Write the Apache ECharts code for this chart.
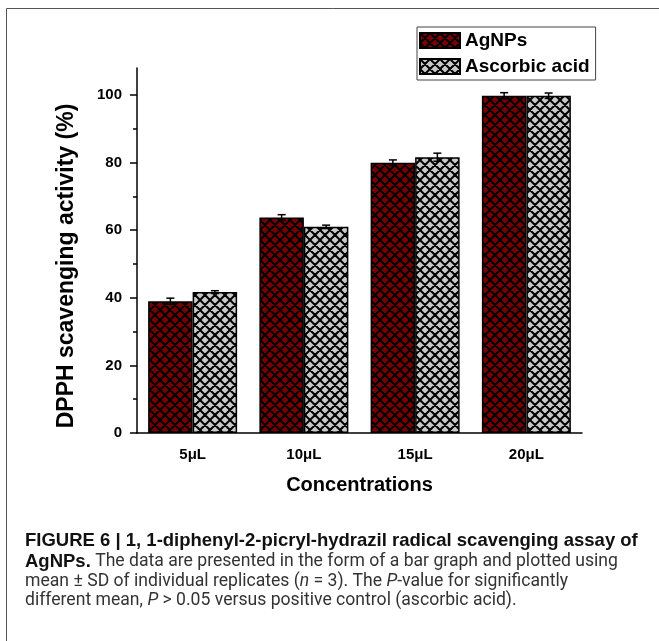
<!DOCTYPE html>
<html>
<head>
<meta charset="utf-8">
<script src="https://cdn.jsdelivr.net/npm/echarts@6/dist/echarts.min.js"></script>
<style>
html,body{margin:0;padding:0;background:#fff;}
#chart{width:659px;height:641px;}
</style>
</head>
<body>
<div id="chart"></div>
<script>
// ---- data ----
const categories = ['5μL', '10μL', '15μL', '20μL'];
const seriesNames = ['AgNPs', 'Ascorbic acid'];
const agnpsValues = [39.0, 63.8, 80.0, 99.8];
const agnpsErrors = [0.9, 0.8, 0.8, 0.9];
const ascorbicValues = [41.7, 61.0, 81.6, 99.8];
const ascorbicErrors = [0.4, 0.5, 1.2, 0.8];
const yTickValues = [0, 20, 40, 60, 80, 100];
const yMinorTickValues = [10, 30, 50, 70, 90];

function makePattern(fill) {
  const s = 20, p = 10;
  const c = document.createElement('canvas');
  c.width = s; c.height = s;
  const g = c.getContext('2d');
  g.fillStyle = fill;
  g.fillRect(0, 0, s, s);
  g.strokeStyle = '#000';
  g.lineWidth = 2;
  g.beginPath();
  for (let k = -6; k <= 6; k++) {
    const o = k * p;
    g.moveTo(o - s, -s); g.lineTo(o + 2 * s, 2 * s);
    g.moveTo(o + 2 * s, -s); g.lineTo(o - s, 2 * s);
  }
  g.stroke();
  return { image: c, repeat: 'repeat' };
}

const redPattern = makePattern('#7a0000');
const grayPattern = makePattern('#c8c8c8');

const chart = echarts.init(document.getElementById('chart'), null, { renderer: 'canvas' });

function errorSeries(name, values, errors, side) {
  return {
    type: 'custom',
    name: name + ' err',
    xAxisIndex: 0,
    yAxisIndex: 0,
    z: 10,
    silent: true,
    data: values.map((v, i) => [i, v, errors[i]]),
    renderItem: function (params, api) {
      const i = api.value(0), v = api.value(1), e = api.value(2);
      const hi = api.coord([i, v + e]);
      const lo = api.coord([i, v - e]);
      const bw = api.size([1, 0])[0];
      const cx = hi[0] + side * bw * 0.2;
      const cap = 4;
      const st = { stroke: '#000', lineWidth: 1.5 };
      return {
        type: 'group',
        children: [
          { type: 'line', shape: { x1: cx, y1: hi[1], x2: cx, y2: lo[1] }, style: st },
          { type: 'line', shape: { x1: cx - cap, y1: hi[1], x2: cx + cap, y2: hi[1] }, style: st },
          { type: 'line', shape: { x1: cx - cap, y1: lo[1], x2: cx + cap, y2: lo[1] }, style: st }
        ]
      };
    }
  };
}

const axisFont = { fontFamily: 'Liberation Sans, Arial, sans-serif', fontWeight: 'bold', fontSize: 15, color: '#000' };
const boldCap = { fontFamily: 'Liberation Sans, Arial, sans-serif', fontWeight: 'bold', fontSize: 18.5, fill: '#111' };
const regCap = { fontFamily: 'Roboto, Liberation Sans, sans-serif', fontSize: 17.6, fill: '#333' };
const itaCap = { fontFamily: 'Roboto, Liberation Sans, sans-serif', fontStyle: 'italic', fontSize: 17.6, fill: '#333' };

const option = {
  animation: false,
  backgroundColor: '#fff',
  grid: { left: 137, right: 77, top: 68, bottom: 208, containLabel: false },
  legend: {
    data: seriesNames,
    orient: 'vertical',
    left: 417,
    top: 27,
    itemWidth: 40,
    itemHeight: 15,
    itemGap: 7,
    padding: [4, 6, 4, 2],
    borderColor: '#444',
    borderWidth: 1,
    icon: 'rect',
    textStyle: { fontFamily: 'Liberation Sans, Arial, sans-serif', fontWeight: 'bold', fontSize: 19, color: '#000' }
  },
  xAxis: [
    {
      type: 'category',
      data: categories,
      axisLine: { lineStyle: { color: '#000', width: 1.5 } },
      axisTick: { alignWithLabel: true, length: 7, lineStyle: { color: '#000', width: 1.5 } },
      axisLabel: Object.assign({ margin: 14 }, axisFont),
      name: 'Concentrations',
      nameLocation: 'middle',
      nameGap: 52,
      nameTextStyle: { fontFamily: 'Liberation Sans, Arial, sans-serif', fontWeight: 'bold', fontSize: 20, color: '#000', verticalAlign: 'middle' }
    },
    {
      type: 'category',
      data: categories,
      position: 'bottom',
      axisLine: { show: false },
      axisTick: { length: 4, lineStyle: { color: '#000', width: 1.5 } },
      axisLabel: { show: false }
    }
  ],
  yAxis: [
    {
      type: 'value',
      min: 0,
      max: 108,
      interval: 20,
      axisLine: { show: true, lineStyle: { color: '#000', width: 1.5 } },
      axisTick: { show: true, length: 7, customValues: yTickValues, lineStyle: { color: '#000', width: 1.5 } },
      axisLabel: Object.assign({ margin: 15, customValues: yTickValues }, axisFont),
      splitLine: { show: false }
    },
    {
      type: 'value',
      min: 0,
      max: 108,
      interval: 20,
      position: 'left',
      axisLine: { show: false },
      axisTick: { show: true, length: 4, customValues: yMinorTickValues, lineStyle: { color: '#000', width: 1.5 } },
      axisLabel: { show: false },
      splitLine: { show: false }
    }
  ],
  series: [
    {
      name: seriesNames[0],
      type: 'bar',
      data: agnpsValues,
      barWidth: '40%',
      barGap: '0%',
      itemStyle: { color: redPattern, borderColor: '#000', borderWidth: 1.5 }
    },
    {
      name: seriesNames[1],
      type: 'bar',
      data: ascorbicValues,
      barWidth: '40%',
      barGap: '0%',
      itemStyle: { color: grayPattern, borderColor: '#000', borderWidth: 1.5 }
    },
    errorSeries(seriesNames[0], agnpsValues, agnpsErrors, -1),
    errorSeries(seriesNames[1], ascorbicValues, ascorbicErrors, 1)
  ],
  graphic: [
    { type: 'line', shape: { x1: 6.5, y1: 8.5, x2: 659, y2: 8.5 }, style: { stroke: '#555', lineWidth: 1 } },
    { type: 'line', shape: { x1: 6.5, y1: 8.5, x2: 6.5, y2: 641 }, style: { stroke: '#555', lineWidth: 1 } },
    {
      type: 'text', x: 67, y: 266, rotation: Math.PI / 2,
      style: { text: 'DPPH scavenging activity (%)', fontFamily: 'Liberation Sans, Arial, sans-serif', fontWeight: 'bold', fontSize: 23, fill: '#000', align: 'center', verticalAlign: 'middle' }
    },
    {
      type: 'text', x: 25, y: 541,
      style: {
        text: '{b|FIGURE 6 | 1, 1-diphenyl-2-picryl-hydrazil radical scavenging assay of}',
        verticalAlign: 'middle',
        rich: { b: boldCap }
      }
    },
    {
      type: 'text', x: 25, y: 562,
      style: {
        text: '{b|AgNPs.}{r| The data are presented in the form of a bar graph and plotted using}',
        verticalAlign: 'middle',
        rich: { b: boldCap, r: regCap }
      }
    },
    {
      type: 'text', x: 25, y: 582,
      style: {
        text: '{r|mean ± SD of individual replicates (}{i|n}{r| = 3). The }{i|P}{r|-value for significantly}',
        verticalAlign: 'middle',
        rich: { r: regCap, i: itaCap }
      }
    },
    {
      type: 'text', x: 25, y: 601,
      style: {
        text: '{r|different mean, }{i|P}{r| > 0.05 versus positive control (ascorbic acid).}',
        verticalAlign: 'middle',
        rich: { r: regCap, i: itaCap }
      }
    }
  ]
};

chart.setOption(option);
</script>
</body>
</html>
